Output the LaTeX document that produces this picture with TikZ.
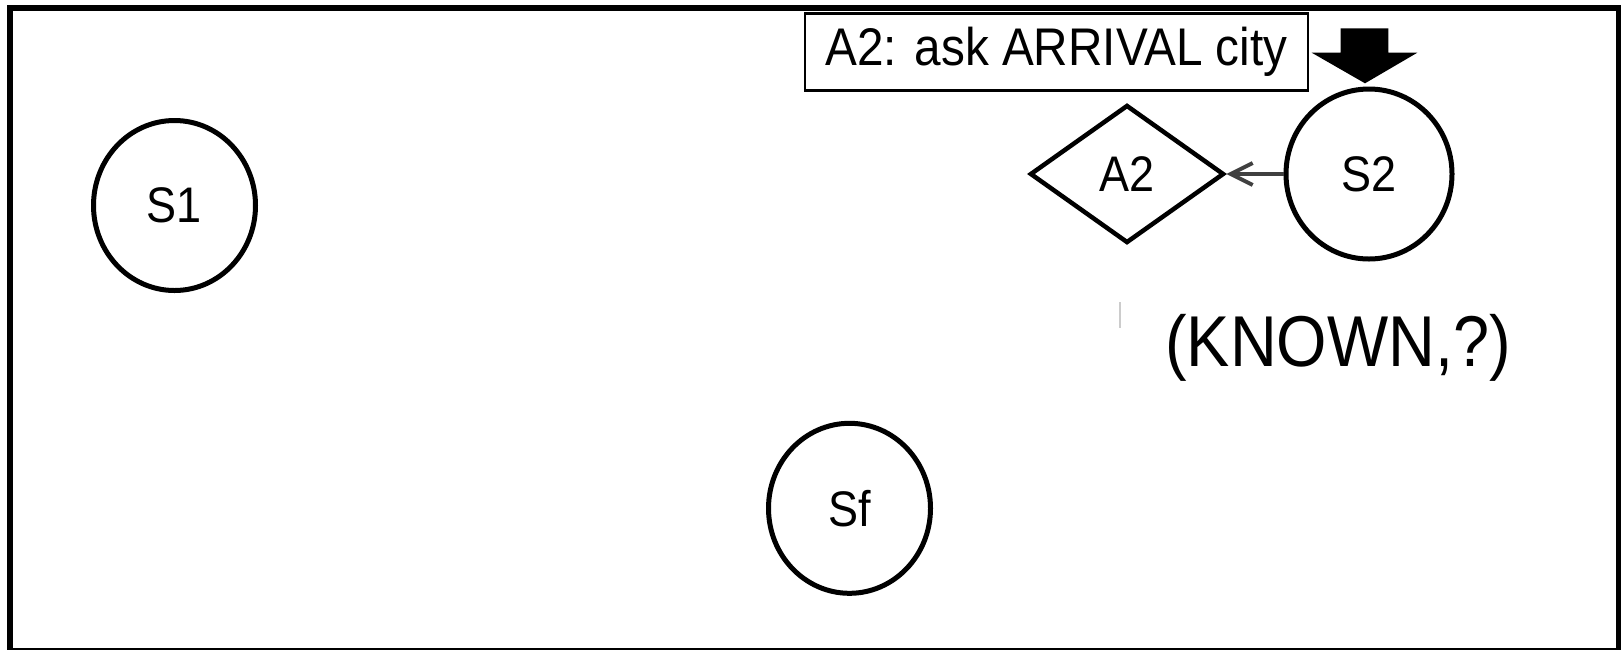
\documentclass[tikz,border=0pt]{standalone}
\usepackage{fontspec}
\setmainfont[FakeStretch=0.9]{Liberation Sans}
\usetikzlibrary{shapes.geometric,arrows.meta}
\begin{document}
\begin{tikzpicture}[x=1pt,y=-1pt,
  state/.style={ellipse,draw,line width=5pt,minimum width=162pt,minimum height=170pt,inner sep=0pt,font=\fontsize{50}{54}\selectfont},
  action/.style={diamond,draw,line width=4.5pt,minimum width=194pt,minimum height=138pt,aspect=1.4,inner sep=0pt,font=\fontsize{50}{54}\selectfont},
  labelbox/.style={draw,line width=2.2pt,minimum width=503pt,minimum height=77pt,inner sep=0pt,font=\fontsize{53}{57}\selectfont},
  trans/.style={draw=black!75,line width=4pt,-{Straight Barb[length=22pt,width=22pt]}}]
\useasboundingbox (0,0) rectangle (1621,649);
\draw[line width=6pt] (9.5,7.5) rectangle (1618.5,650.5);
\node[state] (S1) at (174.5,205.5) {S1};
\node[state] (Sf) at (849.5,508.3) {Sf};
\node[state,minimum width=166pt] (S2) at (1369,174) {S2};
\node[action] (A2) at (1127,174) {A2};
\node[labelbox] (L) at (1056.5,52) {A2: ask ARRIVAL city};
\node[font=\fontsize{72}{76}\selectfont,inner sep=0pt] (K) at (1338,348) {(KNOWN,?)};
\draw[trans] (S2.west) -- (A2.east);
\fill[black] (1340.7,28.3) -- (1388.3,28.3) -- (1388.3,52.7) -- (1417.3,52.7) -- (1365,83.3) -- (1311.7,52.7) -- (1340.7,52.7) -- cycle;
\draw[black!20,line width=2.5pt] (1120,302) -- (1120,328);
\end{tikzpicture}
\end{document}
